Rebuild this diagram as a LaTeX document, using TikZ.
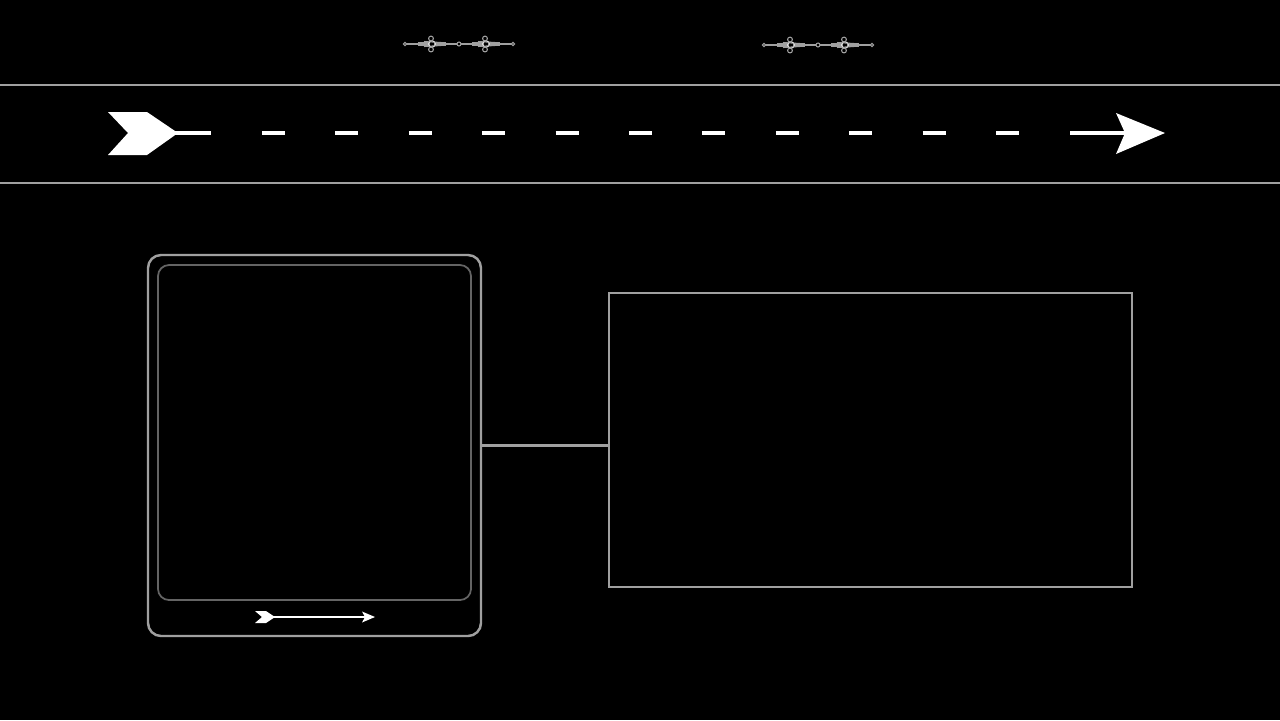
\documentclass[tikz,border=0pt]{standalone}
\usetikzlibrary{positioning}
\usetikzlibrary{calc}

\definecolor{chalk}{RGB}{160,160,160}
\definecolor{dimchalk}{RGB}{100,100,100}

\tikzset{
  roadline/.style={chalk, line width=0.6pt},
  lane/.style={white, line width=1.4pt},
  framebox/.style={draw=chalk, line width=0.7pt, rounded corners=1.3mm, minimum width=33.3mm, minimum height=38.1mm, inner sep=0pt},
  screenbox/.style={draw=dimchalk, line width=0.5pt, rounded corners=1.1mm, minimum width=31.3mm, minimum height=33.5mm, inner sep=0pt},
  panelbox/.style={draw=chalk, line width=0.6pt, minimum width=52.3mm, minimum height=29.4mm, inner sep=0pt},
}

\begin{document}
\begin{tikzpicture}[x=0.1mm, y=-0.1mm]
	% background and page size
	\fill[black] (0,0) rectangle (1280,720);
	\useasboundingbox (0,0) rectangle (1280,720);

	% small ornaments at the top
	\def\ornament#1#2{
		\draw[chalk, line width=0.3pt] (#1-54,#2) -- (#1+54,#2);
		\draw[chalk, line width=0.3pt, fill=black] (#1-54,#2) circle (1.6) (#1+54,#2) circle (1.6) (#1,#2) circle (2);
		\foreach \s in {-1,1} {
			\draw[chalk, line width=0.9pt] (#1+\s*27-14,#2) -- (#1+\s*27+14,#2);
			\draw[white, line width=0.3pt, fill=black] (#1+\s*27,#2) circle (3.2);
			\draw[chalk, line width=0.3pt] (#1+\s*27-1,#2-5.5) circle (2.4) (#1+\s*27-1,#2+5.5) circle (2.4);
			\draw[chalk, line width=0.3pt] (#1+\s*27-8,#2-2.5) -- (#1+\s*27+9,#2-1.5) (#1+\s*27-8,#2+2.5) -- (#1+\s*27+9,#2+1.5);
		}
	}
	\ornament{459}{44}
	\ornament{818}{45}

	% road edges
	\draw[roadline] (0,85) -- (1280,85);
	\draw[roadline] (0,183) -- (1280,183);

	% road arrow
	\coordinate (tail) at (108,133);
	\coordinate (head) at (1165,133);
	\fill[white] (tail) ++(0,-21) -- ++(39,0) -- ++(31,21) -- ++(-31,22) -- ++(-39,0) -- ++(20,-22) -- cycle;
	\draw[lane] ($(tail)+(65,0)$) -- (211,133);
	\foreach \i in {0,...,10} {
		\draw[lane] (262+73.4*\i,133) -- ++(23,0);
	}
	\draw[lane] (1070,133) -- (1125,133);
	\fill[white] (head) -- ++(-49,-20) -- ++(9,20) -- ++(-9,21) -- cycle;

	% left frame with screen
	\node[framebox] (pad) at (314.5,445.5) {};
	\node[screenbox] (screen) at (314.5,432.5) {};

	% small arrow under the screen
	\coordinate (stail) at (255,617);
	\coordinate (shead) at (375,617);
	\fill[white] (stail) ++(0,-6) -- ++(11,0) -- ++(9,6) -- ++(-9,6) -- ++(-11,0) -- ++(7,-6) -- cycle;
	\draw[white, line width=0.6pt] ($(stail)+(18,0)$) -- ($(shead)+(-10,0)$);
	\fill[white] (shead) -- ++(-13,-5.5) -- ++(3,5.5) -- ++(-3,5.5) -- cycle;

	% right panel
	\node[panelbox] (panel) at (870.5,440) {};

	% link between them
	\draw[chalk, line width=0.6pt] (pad.east) -- (pad.east -| panel.west);
\end{tikzpicture}
\end{document}
